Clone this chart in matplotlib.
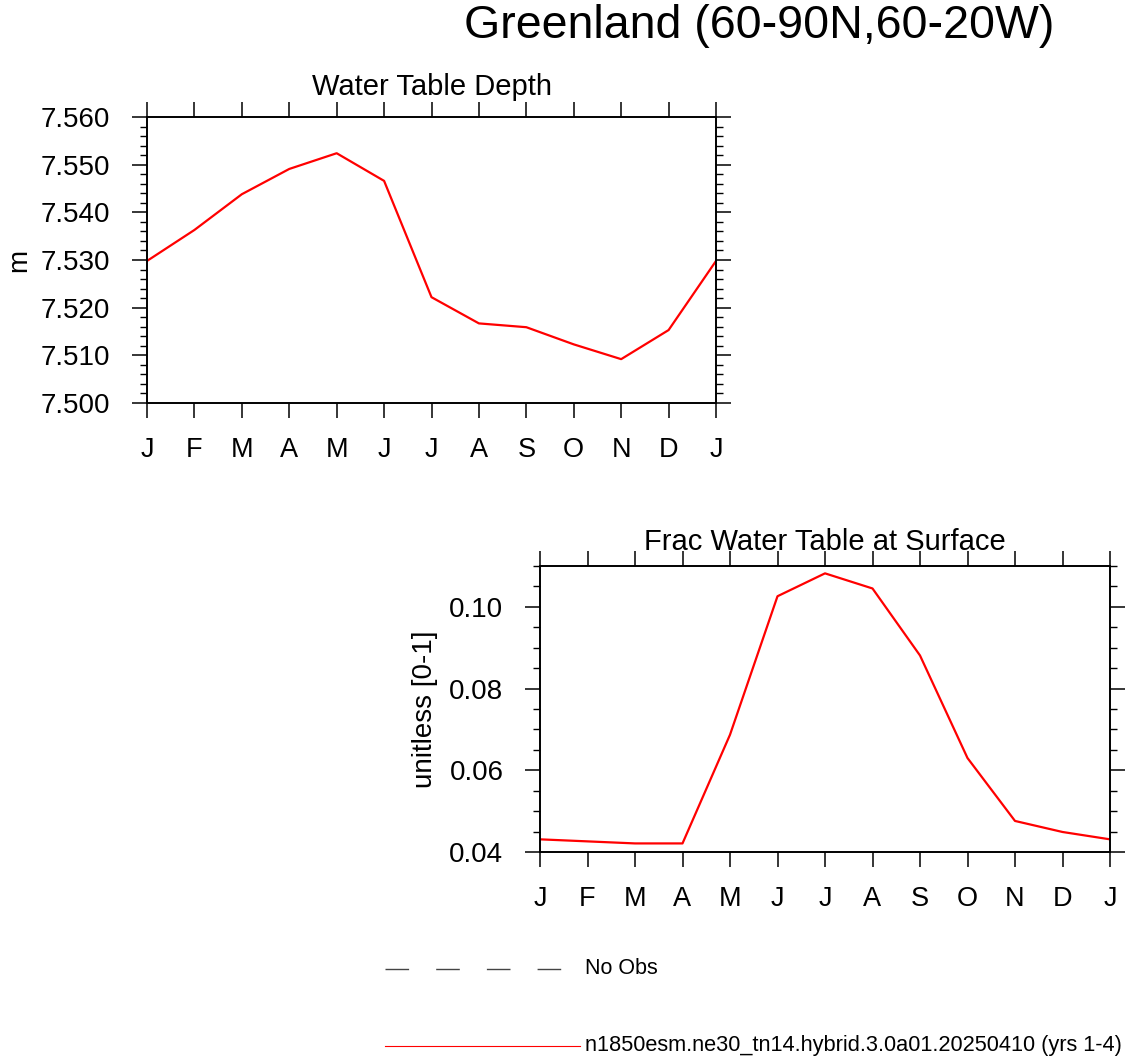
import matplotlib
matplotlib.use("Agg")
import matplotlib.pyplot as plt
from matplotlib.lines import Line2D
from matplotlib.ticker import MultipleLocator, FixedLocator, FormatStrFormatter
import numpy as np

plt.rcParams['font.family'] = ['Liberation Sans', 'DejaVu Sans']

months = ["J", "F", "M", "A", "M", "J", "J", "A", "S", "O", "N", "D", "J"]

wtd = [7.5298, 7.5363, 7.5438, 7.5491, 7.5524, 7.5466, 7.5222, 7.5167,
       7.5159, 7.5123, 7.5092, 7.5153, 7.5298]
frac = [0.0431, 0.0426, 0.0421, 0.0421, 0.0687, 0.1026, 0.1082, 0.1045,
        0.0881, 0.0630, 0.0476, 0.0449, 0.0431]

suptitle = "Greenland (60-90N,60-20W)"
title1 = "Water Table Depth"
title2 = "Frac Water Table at Surface"
ylab1 = "m"
ylab2 = "unitless [0-1]"
leg_obs = "No Obs"
leg_model = "n1850esm.ne30_tn14.hybrid.3.0a01.20250410 (yrs 1-4)"

W, H = 1128, 1057
fig = plt.figure(figsize=(W / 100, H / 100), dpi=100)


def px_axes(l, t, r, b):
    return fig.add_axes([l / W, 1 - b / H, (r - l) / W, (b - t) / H])


def style(ax, ymin, ymax, ymaj, ymin_step, fmt):
    x = np.arange(len(months))
    ax.set_xlim(0, len(months) - 1)
    ax.set_ylim(ymin, ymax)
    ax.xaxis.set_major_locator(FixedLocator(x))
    ax.set_xticklabels(months)
    ax.yaxis.set_major_locator(MultipleLocator(ymaj))
    ax.yaxis.set_minor_locator(MultipleLocator(ymin_step))
    ax.yaxis.set_major_formatter(FormatStrFormatter(fmt))
    ax.tick_params(axis='both', which='major', direction='out', length=10.8,
                   width=1.1, top=True, right=True, labelsize=20)
    ax.tick_params(axis='y', which='minor', direction='out', length=5,
                   width=1.0, right=True, left=True)
    ax.tick_params(axis='y', which='major', pad=15.5)
    ax.tick_params(axis='x', which='major', pad=14, labelsize=19.5)
    for s in ax.spines.values():
        s.set_linewidth(1.4)


ax1 = px_axes(147, 117, 716, 403)
ax1.plot(np.arange(len(months)), wtd, color='red', lw=1.6)
style(ax1, 7.500, 7.560, 0.010, 0.002, '%.3f')
ax1.set_ylabel(ylab1, fontsize=20, labelpad=6)
fig.text(431.5 / W, 1 - 95 / H, title1, fontsize=21, ha='center', va='baseline')

ax2 = px_axes(540, 566, 1110, 852)
ax2.plot(np.arange(len(months)), frac, color='red', lw=1.6)
style(ax2, 0.04, 0.11, 0.02, 0.005, '%.2f')
ax2.set_ylabel(ylab2, fontsize=20, labelpad=8.5)
fig.text(825 / W, 1 - 550 / H, title2, fontsize=21, ha='center', va='baseline')

fig.text(759 / W, 1 - 38 / H, suptitle, fontsize=33.5, ha='center', va='baseline')

# legend
fig.add_artist(Line2D([385 / W, 562 / W], [1 - 969 / H] * 2, color='#444444',
                      lw=1.0, dashes=(17, 19.5)))
fig.text(585 / W, 1 - 969 / H, leg_obs, fontsize=15.5, ha='left', va='center')
fig.add_artist(Line2D([385 / W, 580 / W], [1 - 1046 / H] * 2, color='red', lw=0.8))
fig.text(585 / W, 1 - 1046 / H, leg_model, fontsize=15.7, ha='left', va='center')

fig.savefig("out.png", dpi=100)
